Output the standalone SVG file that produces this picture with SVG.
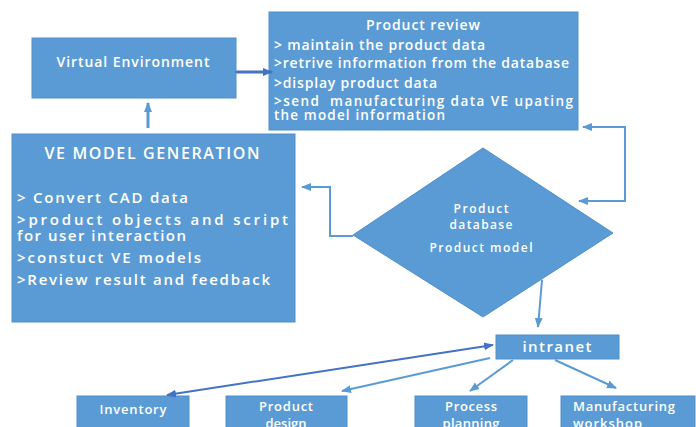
<svg xmlns="http://www.w3.org/2000/svg" width="696" height="427" viewBox="0 0 696 427">
<style>
.box{fill:#5B9BD5;stroke:#4F8FCB;stroke-width:1}
.t{fill:#ffffff;font-family:"Open Sans","Noto Sans",sans-serif;font-weight:600;font-size:14px}
.c{text-anchor:middle}
.big{font-size:15px}
.ttl{font-size:16px}
.sm{font-size:13px}
.xs{font-size:12px}
.pr{font-size:13.5px}
.ln{fill:none;stroke:#5B9BD5;stroke-width:2}
.dk{fill:none;stroke:#4472C4;stroke-width:2}
</style>
<defs>
<marker id="ah" markerUnits="userSpaceOnUse" markerWidth="10" markerHeight="10" viewBox="0 0 10 10" refX="9" refY="5" orient="auto-start-reverse">
<path d="M0,1 L10,5 L0,9 Z" fill="#5B9BD5"/>
</marker>
<marker id="ahd" markerUnits="userSpaceOnUse" markerWidth="10" markerHeight="10" viewBox="0 0 10 10" refX="9" refY="5" orient="auto-start-reverse">
<path d="M0,1 L10,5 L0,9 Z" fill="#4472C4"/>
</marker>
</defs>
<rect width="696" height="427" fill="#ffffff"/>
<g id="virtual-environment">
<rect class="box" x="32" y="38" width="204" height="60"/>
<text class="t c" x="133" y="67" textLength="153">Virtual Environment</text>
</g>
<g id="product-review">
<rect class="box" x="269" y="12" width="309" height="118"/>
<text class="t c" x="423" y="30" textLength="114">Product review</text>
<text class="t" x="274" y="50" textLength="211">&gt; maintain the product data</text>
<text class="t" x="274" y="68" textLength="295">&gt;retrive information from the database</text>
<text class="t" x="274" y="88" textLength="163">&gt;display product data</text>
<text class="t pr" x="274" y="106" textLength="299" xml:space="preserve">&gt;send  manufacturing data VE upating</text>
<text class="t pr" x="274" y="120" textLength="171">the model information</text>
</g>
<g id="ve-model-generation">
<rect class="box" x="12" y="134" width="283" height="188"/>
<text class="t c ttl" x="152" y="159" textLength="215">VE MODEL GENERATION</text>
<text class="t big" x="17" y="203" textLength="171">&gt; Convert CAD data</text>
<text class="t big" x="17" y="225" textLength="271">&gt;product objects and script</text>
<text class="t big" x="17" y="241" textLength="169">for user interaction</text>
<text class="t big" x="17" y="263" textLength="184">&gt;constuct VE models</text>
<text class="t big" x="17" y="285" textLength="253">&gt;Review result and feedback</text>
</g>
<g id="product-database">
<polygon class="box" points="483,148 613,233 483,317 353,235"/>
<text class="t c xs" x="481" y="213" textLength="55">Product</text>
<text class="t c xs" x="481" y="229" textLength="63">database</text>
<text class="t c xs" x="481" y="252" textLength="103">Product model</text>
</g>
<g id="intranet">
<rect class="box" x="496" y="335" width="123" height="24"/>
<text class="t c big" x="557" y="352" textLength="69">intranet</text>
</g>
<g id="inventory">
<rect class="box" x="77" y="396" width="112" height="40"/>
<text class="t c sm" x="133" y="414" textLength="67">Inventory</text>
</g>
<g id="product-design">
<rect class="box" x="226" y="396" width="121" height="40"/>
<text class="t c sm" x="286" y="411" textLength="54">Product</text>
<text class="t c sm" x="286" y="428">design</text>
</g>
<g id="process-planning">
<rect class="box" x="415" y="396" width="112" height="40"/>
<text class="t c sm" x="471" y="411" textLength="52">Process</text>
<text class="t c sm" x="471" y="428" textLength="57">planning</text>
</g>
<g id="manufacturing-workshop">
<rect class="box" x="561" y="396" width="134" height="40"/>
<text class="t sm" x="573" y="411" textLength="102">Manufacturing</text>
<text class="t sm" x="573" y="428" textLength="69">workshop</text>
</g>
<g id="connectors">
<line x1="236" y1="72" x2="272" y2="72" stroke="#4472C4" stroke-width="3" marker-end="url(#ahd)"/>
<line x1="148" y1="128" x2="148" y2="103" stroke="#5B9BD5" stroke-width="3" marker-end="url(#ah)"/>
<polyline class="ln" points="353,236 330,236 330,187 302,187" marker-end="url(#ah)"/>
<polyline class="ln" points="583,127 625,127 625,201 579,201" marker-start="url(#ah)" marker-end="url(#ah)"/>
<line class="ln" x1="542" y1="280" x2="538" y2="327" marker-end="url(#ah)"/>
<line class="dk" x1="493" y1="345" x2="167" y2="395" marker-start="url(#ahd)" marker-end="url(#ahd)"/>
<line class="ln" x1="490" y1="358" x2="342" y2="391" marker-end="url(#ah)"/>
<line class="ln" x1="513" y1="360" x2="470" y2="391" marker-end="url(#ah)"/>
<line class="ln" x1="555" y1="360" x2="616" y2="388" marker-end="url(#ah)"/>
</g>
</svg>
